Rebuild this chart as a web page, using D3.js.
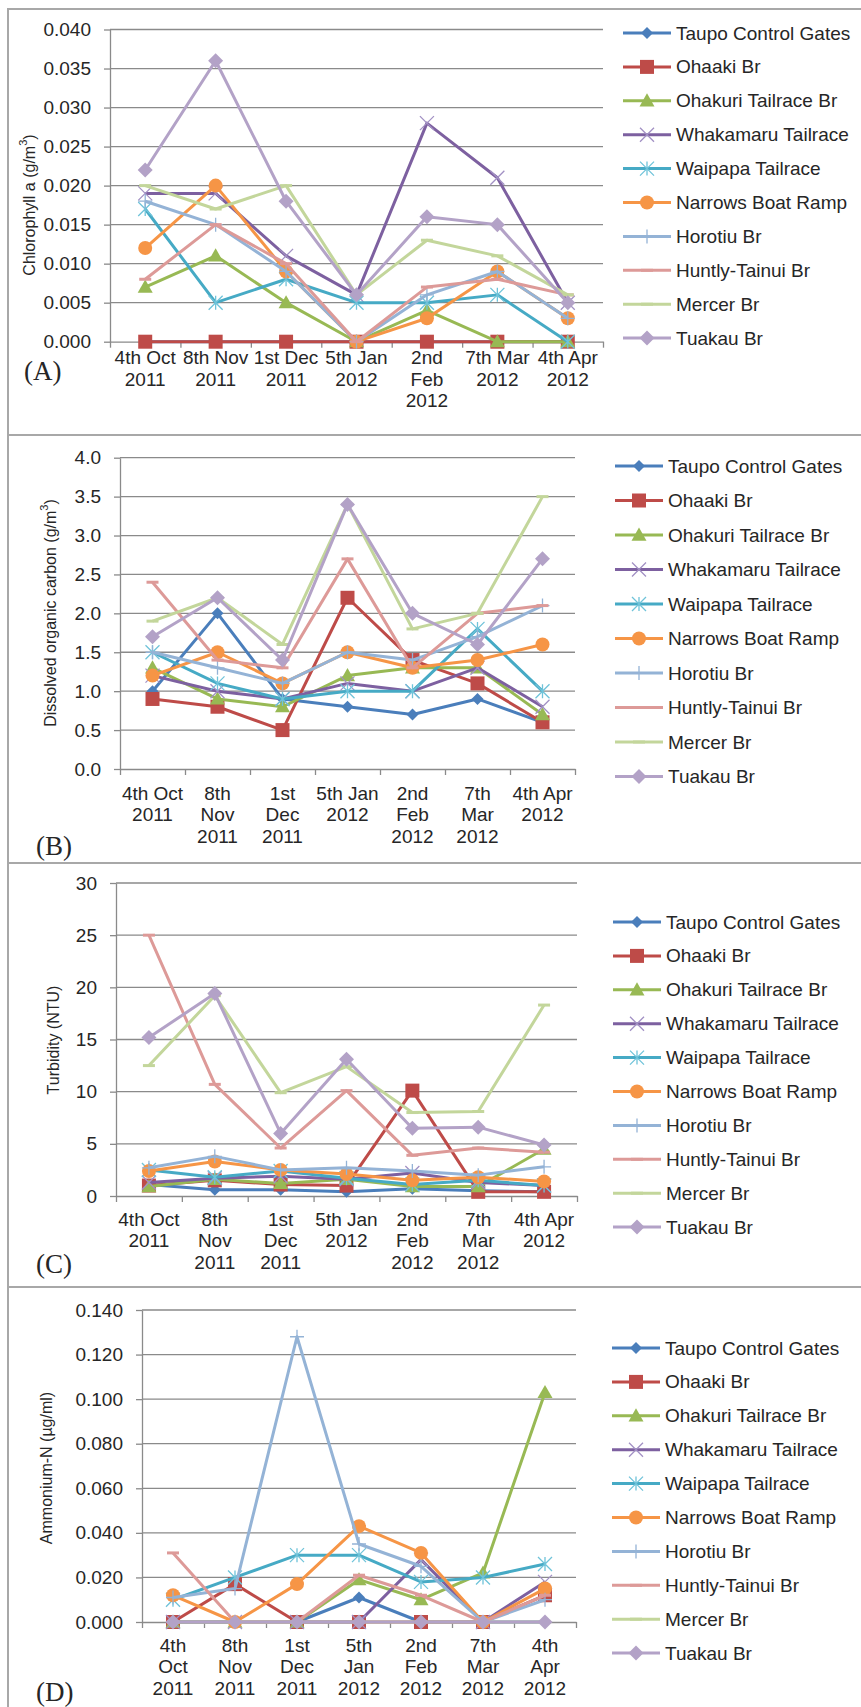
<!DOCTYPE html>
<html>
<head>
<meta charset="utf-8">
<script src="https://cdn.jsdelivr.net/npm/d3@7"></script>
<style>
  body { margin: 0; background: #fff; }
  svg text { font-family: "Liberation Sans", Arial, sans-serif; fill: #262626; }
</style>
</head>
<body>
<svg id="fig" width="861" height="1707"></svg>
<script>
// sampling dates
const dates = ['4th Oct 2011', '8th Nov 2011', '1st Dec 2011', '5th Jan 2012', '2nd Feb 2012', '7th Mar 2012', '4th Apr 2012'];

// how Excel wrapped the category labels in each panel
const labelsA = [['4th Oct', '2011'], ['8th Nov', '2011'], ['1st Dec', '2011'], ['5th Jan', '2012'], ['2nd', 'Feb', '2012'], ['7th Mar', '2012'], ['4th Apr', '2012']];
const labelsBC = [['4th Oct', '2011'], ['8th', 'Nov', '2011'], ['1st', 'Dec', '2011'], ['5th Jan', '2012'], ['2nd', 'Feb', '2012'], ['7th', 'Mar', '2012'], ['4th Apr', '2012']];
const labelsD = [['4th', 'Oct', '2011'], ['8th', 'Nov', '2011'], ['1st', 'Dec', '2011'], ['5th', 'Jan', '2012'], ['2nd', 'Feb', '2012'], ['7th', 'Mar', '2012'], ['4th', 'Apr', '2012']];

const stations = ['Taupo Control Gates', 'Ohaaki Br', 'Ohakuri Tailrace Br', 'Whakamaru Tailrace', 'Waipapa Tailrace',
                  'Narrows Boat Ramp', 'Horotiu Br', 'Huntly-Tainui Br', 'Mercer Br', 'Tuakau Br'];

// (A) chlorophyll a, g/m3 - one row per station
const chlorophyll = [
  [0, 0, 0, 0, 0, 0, 0],
  [0, 0, 0, 0, 0, 0, 0],
  [0.007, 0.011, 0.005, 0, 0.004, 0, 0],
  [0.019, 0.019, 0.011, 0.006, 0.028, 0.021, 0.005],
  [0.017, 0.005, 0.008, 0.005, 0.005, 0.006, 0],
  [0.012, 0.020, 0.009, 0, 0.003, 0.009, 0.003],
  [0.018, 0.015, 0.009, 0, 0.006, 0.009, 0.003],
  [0.008, 0.015, 0.010, 0, 0.007, 0.008, 0.006],
  [0.020, 0.017, 0.020, 0.006, 0.013, 0.011, 0.006],
  [0.022, 0.036, 0.018, 0.006, 0.016, 0.015, 0.005]
];

// (B) dissolved organic carbon, g/m3
const doc = [
  [1.0, 2.0, 0.9, 0.8, 0.7, 0.9, 0.6],
  [0.9, 0.8, 0.5, 2.2, 1.4, 1.1, 0.6],
  [1.3, 0.9, 0.8, 1.2, 1.3, 1.3, 0.7],
  [1.2, 1.0, 0.9, 1.1, 1.0, 1.3, 0.8],
  [1.5, 1.1, 0.9, 1.0, 1.0, 1.8, 1.0],
  [1.2, 1.5, 1.1, 1.5, 1.3, 1.4, 1.6],
  [1.5, 1.3, 1.1, 1.5, 1.4, 1.7, 2.1],
  [2.4, 1.4, 1.3, 2.7, 1.3, 2.0, 2.1],
  [1.9, 2.2, 1.6, 3.4, 1.8, 2.0, 3.5],
  [1.7, 2.2, 1.4, 3.4, 2.0, 1.6, 2.7]
];

// (C) turbidity, NTU
const turbidity = [
  [1.1, 0.6, 0.6, 0.4, 0.7, 0.5, 0.4],
  [1.0, 1.5, 1.1, 1.0, 10.1, 0.4, 0.4],
  [0.9, 1.6, 1.2, 1.6, 0.9, 0.9, 4.5],
  [1.3, 1.7, 1.9, 1.6, 2.2, 1.3, 1.0],
  [2.5, 1.8, 2.4, 1.7, 1.1, 1.5, 1.0],
  [2.4, 3.3, 2.5, 2.1, 1.5, 1.8, 1.4],
  [2.7, 3.8, 2.5, 2.7, 2.4, 2.0, 2.8],
  [25.0, 10.7, 4.6, 10.1, 3.9, 4.6, 4.2],
  [12.5, 19.2, 9.9, 12.4, 8.0, 8.1, 18.3],
  [15.2, 19.4, 6.0, 13.1, 6.5, 6.6, 4.9]
];

// (D) ammonium-N, ug/ml
const ammonium = [
  [0, 0, 0, 0.011, 0, 0, 0],
  [0, 0.017, 0, 0, 0, 0, 0.012],
  [0, 0, 0, 0.019, 0.010, 0.022, 0.103],
  [0, 0, 0, 0, 0.028, 0, 0.018],
  [0.010, 0.020, 0.030, 0.030, 0.018, 0.020, 0.026],
  [0.012, 0, 0.017, 0.043, 0.031, 0, 0.015],
  [0.011, 0.015, 0.128, 0.035, 0.025, 0, 0.010],
  [0.031, 0, 0, 0.021, 0.012, 0, 0.012],
  [0, 0, 0, 0, 0, 0, 0],
  [0, 0, 0, 0, 0, 0, 0]
];

// y axis ticks
const ticksA = [0, 0.005, 0.010, 0.015, 0.020, 0.025, 0.030, 0.035, 0.040];
const ticksB = [0, 0.5, 1.0, 1.5, 2.0, 2.5, 3.0, 3.5, 4.0];
const ticksC = [0, 5, 10, 15, 20, 25, 30];
const ticksD = [0, 0.020, 0.040, 0.060, 0.080, 0.100, 0.120, 0.140];

// Excel 2007 default look
const lineColors = ['#4a7ebb', '#be4b48', '#98b954', '#7d60a0', '#46aac5', '#f69546', '#94b3d6', '#dd9a98', '#c3d69b', '#b3a2c7'];
const markColors = ['#4a7ebb', '#be4b48', '#98b954', '#a291c4', '#6fc3d9', '#f69546', '#94b3d6', '#dd9a98', '#c3d69b', '#b3a2c7'];
const markKinds = ['diamond', 'square', 'triangle', 'x', 'star', 'circle', 'plus', 'dash', 'dash', 'diamond'];

const svg = d3.select('#fig');
const grey = '#8a8a8a';

function markerPath(kind, s) {
    switch (kind) {
        case 'diamond': return `M0,${-s}L${s},0L0,${s}L${-s},0Z`;
        case 'square': return `M${-s},${-s}H${s}V${s}H${-s}Z`;
        case 'triangle': return `M0,${-s}L${s},${s * 0.75}L${-s},${s * 0.75}Z`;
        case 'x': return `M${-s},${-s}L${s},${s}M${-s},${s}L${s},${-s}`;
        case 'star': return `M${-s},${-s}L${s},${s}M${-s},${s}L${s},${-s}M0,${-s}V${s}`;
        case 'plus': return `M${-s},0H${s}M0,${-s}V${s}`;
        case 'dash': return `M${-s},0H${s}`;
        default: return '';
    }
}

function addMarker(sel, i) {
    const kind = markKinds[i];
    const c = markColors[i];
    if (kind === 'circle') {
        sel.append('circle').attr('r', 7).attr('fill', c);
        return;
    }
    const size = {diamond: i === 0 ? 6 : 7.5, square: 7, triangle: 7.5, x: 7, star: 7, plus: 7, dash: 6}[kind];
    const p = sel.append('path').attr('d', markerPath(kind, size));
    if (kind === 'diamond' || kind === 'square' || kind === 'triangle') {
        p.attr('fill', c);
    } else {
        p.attr('fill', 'none').attr('stroke', c).attr('stroke-width', kind === 'dash' ? 3 : 1.3);
    }
}

function drawPanel(p) {
    const g = svg.append('g');

    // frame around the panel
    g.append('rect')
        .attr('x', 8).attr('y', p.boxTop)
        .attr('width', 880).attr('height', p.boxBottom - p.boxTop)
        .attr('fill', 'none').attr('stroke', '#a8a8a8').attr('stroke-width', 2);

    const x = d3.scaleBand().domain(d3.range(dates.length)).range([p.left, p.right]);
    const cx = (i) => x(i) + x.bandwidth() / 2;
    const y = d3.scaleLinear().domain([0, d3.max(p.ticks)]).range([p.bottom, p.top]);

    // horizontal gridlines
    g.append('g').selectAll('line')
        .data(p.ticks.slice(1))
        .join('line')
        .attr('x1', p.left).attr('x2', p.right)
        .attr('y1', (d) => y(d)).attr('y2', (d) => y(d))
        .attr('stroke', grey).attr('stroke-width', 1.3);

    // y axis
    const ya = g.append('g')
        .attr('transform', `translate(${p.left},0)`)
        .call(d3.axisLeft(y).tickValues(p.ticks).tickFormat(p.fmt).tickSize(6).tickSizeOuter(0).tickPadding(13));
    ya.attr('font-family', null).attr('font-size', null);
    ya.select('.domain').attr('stroke', grey).attr('stroke-width', 1.3);
    ya.selectAll('.tick line').attr('stroke', grey).attr('stroke-width', 1.3);
    ya.selectAll('.tick text').attr('font-size', 19).attr('fill', '#303030');

    // x axis with ticks between categories
    const xb = d3.scaleLinear().domain([0, dates.length]).range([p.left, p.right]);
    const xa = g.append('g')
        .attr('transform', `translate(0,${p.bottom})`)
        .call(d3.axisBottom(xb).tickValues(d3.range(dates.length + 1)).tickFormat(() => '').tickSize(6).tickSizeOuter(0));
    xa.select('.domain').attr('stroke', grey).attr('stroke-width', 1.3);
    xa.selectAll('.tick line').attr('stroke', grey).attr('stroke-width', 1.3);

    // category labels
    const lab = g.append('g').selectAll('text')
        .data(p.labels)
        .join('text')
        .attr('text-anchor', 'middle')
        .attr('font-size', 19)
        .attr('fill', '#303030');
    lab.selectAll('tspan')
        .data((d, i) => d.map((t, k) => ({t, k, i})))
        .join('tspan')
        .attr('x', (d) => cx(d.i))
        .attr('y', (d) => p.bottom + p.labOffset + d.k * 21.8)
        .attr('dominant-baseline', 'central')
        .text((d) => d.t);

    // series
    const line = d3.line().x((d, i) => cx(i)).y((d) => y(d));
    p.data.forEach((vals, s) => {
        const sg = g.append('g');
        sg.append('path')
            .attr('d', line(vals))
            .attr('fill', 'none')
            .attr('stroke', lineColors[s])
            .attr('stroke-width', 3)
            .attr('stroke-linejoin', 'round');
        vals.forEach((v, i) => {
            const m = sg.append('g').attr('transform', `translate(${cx(i)},${y(v)})`);
            addMarker(m, s);
        });
    });

    // legend
    const leg = g.append('g');
    stations.forEach((name, i) => {
        const ly = p.legTop + i * p.legStep;
        const item = leg.append('g').attr('transform', `translate(${p.legX},${ly})`);
        item.append('line').attr('x1', 0).attr('x2', 48)
            .attr('stroke', lineColors[i]).attr('stroke-width', 3);
        addMarker(item.append('g').attr('transform', 'translate(24,0)'), i);
        item.append('text').attr('x', 53).attr('dominant-baseline', 'central')
            .attr('font-size', 19).attr('fill', '#1a1a1a').text(name);
    });

    // y axis title
    const title = g.append('text')
        .attr('transform', `translate(${p.titleX},${p.titleY}) rotate(-90)`)
        .attr('text-anchor', 'middle')
        .attr('dominant-baseline', 'central')
        .attr('font-size', 16)
        .attr('fill', '#303030');
    title.append('tspan').text(p.title[0]);
    if (p.title.length > 1) {
        title.append('tspan').attr('font-size', 11).attr('dy', -6).text(p.title[1]);
        title.append('tspan').attr('dy', 6).text(p.title[2]);
    }

    // panel tag
    g.append('text')
        .attr('x', p.tagX).attr('y', p.tagY)
        .attr('font-size', 27)
        .style('font-family', '"Liberation Serif", "Times New Roman", serif')
        .attr('fill', '#111')
        .text(p.tag);
}

drawPanel({
    data: chlorophyll, ticks: ticksA, fmt: d3.format('.3f'), labels: labelsA,
    boxTop: 9, boxBottom: 435, left: 110, right: 603, top: 29.5, bottom: 341.7, labOffset: 15.5,
    legX: 623, legTop: 33, legStep: 33.9,
    title: ['Chlorophyll a (g/m', '3', ')'], titleX: 29, titleY: 205, tag: '(A)', tagX: 24, tagY: 380
});

drawPanel({
    data: doc, ticks: ticksB, fmt: d3.format('.1f'), labels: labelsBC,
    boxTop: 435, boxBottom: 863, left: 120, right: 575, top: 457.7, bottom: 769, labOffset: 24,
    legX: 615, legTop: 466, legStep: 34.5,
    title: ['Dissolved organic carbon (g/m', '3', ')'], titleX: 50, titleY: 613, tag: '(B)', tagX: 36, tagY: 855
});

drawPanel({
    data: turbidity, ticks: ticksC, fmt: d3.format('d'), labels: labelsBC,
    boxTop: 863, boxBottom: 1287, left: 116, right: 577, top: 883, bottom: 1196, labOffset: 23,
    legX: 613, legTop: 922, legStep: 33.9,
    title: ['Turbidity (NTU)'], titleX: 53, titleY: 1040, tag: '(C)', tagX: 36, tagY: 1273
});

drawPanel({
    data: ammonium, ticks: ticksD, fmt: d3.format('.3f'), labels: labelsD,
    boxTop: 1287, boxBottom: 1720, left: 142, right: 576, top: 1310, bottom: 1622, labOffset: 23,
    legX: 612, legTop: 1348, legStep: 33.9,
    title: ['Ammonium-N (µg/ml)'], titleX: 46, titleY: 1468, tag: '(D)', tagX: 36, tagY: 1701
});
</script>
</body>
</html>
